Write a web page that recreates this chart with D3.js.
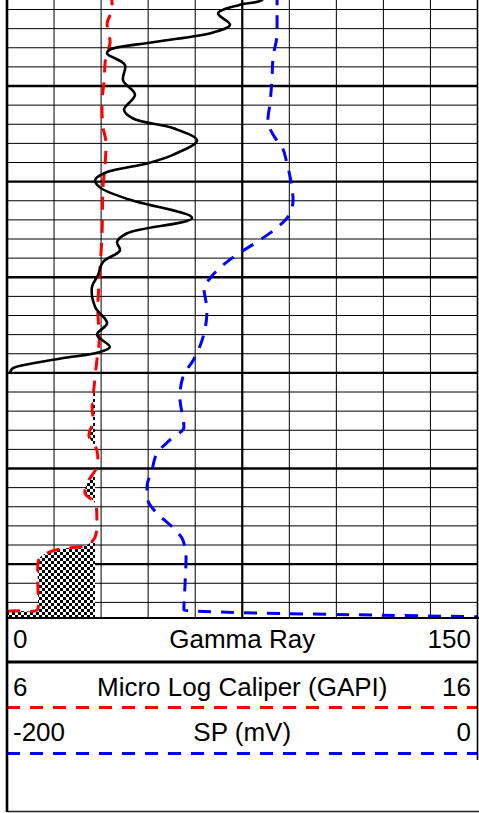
<!DOCTYPE html>
<meta charset="utf-8">

<style type="text/css">
  body {
    margin: 0;
    background: #fff;
    font-family: "Liberation Sans", Arial, sans-serif;
  }

  svg {
    display: block;
  }

  .legend text {
    font-size: 26px;
    fill: #000;
  }
</style>

<body>
</body>

<script src="https://d3js.org/d3.v7.min.js"></script>
<script>
  // depth (ft) and curve readings
  var grDepth = [1000.2, 1001.0, 1001.5, 1002.4, 1003.6, 1004.4, 1005.4, 1006.2, 1006.6, 1007.8,
    1009.4, 1010.9, 1012.5, 1013.4, 1014.4, 1015.7, 1017.2, 1018.1, 1019.0, 1019.8,
    1020.6, 1021.9, 1023.8, 1025.4, 1026.3, 1027.2, 1028.4, 1029.8, 1031.0, 1033.1,
    1034.8, 1036.0, 1037.3, 1037.9, 1038.4, 1039.0, 1039.5, 1039.9];
  var grValue = [82.3, 81.3, 74.3, 67.3, 71.1, 65.7, 47.0, 32.8, 31.9, 37.6,
    37.0, 40.8, 37.3, 40.2, 52.9, 60.6, 52.9, 44.6, 31.9, 28.1,
    29.6, 39.2, 59.0, 38.3, 35.1, 36.0, 30.6, 29.0, 27.1, 28.1,
    31.9, 28.7, 32.8, 28.7, 19.1, 8.3, 1.9, 1.0];

  var calDepth = [1000.2, 1002.1, 1003.4, 1005.5, 1007.0, 1009.7, 1011.5, 1014.3, 1015.7, 1018.5,
    1020.6, 1025.4, 1028.9, 1030.3, 1033.4, 1036.6, 1038.7, 1041.5, 1043.6, 1045.2,
    1046.5, 1048.1, 1049.8, 1051.4, 1052.6, 1053.6, 1055.1, 1057.2, 1058.0, 1058.3,
    1058.6, 1059.3, 1059.9, 1063.8, 1064.8, 1065.0, 1065.9];
  var calValue = [8.21, 8.23, 8.13, 8.19, 8.10, 8.06, 8.02, 8.04, 8.10, 8.08,
    8.04, 8.02, 7.98, 7.96, 7.93, 7.96, 7.91, 7.85, 7.81, 7.83,
    7.74, 7.91, 7.91, 7.72, 7.66, 7.87, 7.91, 7.87, 7.70, 7.34,
    6.98, 6.70, 6.66, 6.66, 6.64, 6.00, 6.00];

  var spDepth = [1000.2, 1001.8, 1004.5, 1007.0, 1009.4, 1011.8, 1013.6, 1015.4, 1016.4, 1018.1,
    1020.6, 1021.9, 1023.5, 1024.8, 1026.3, 1028.0, 1030.1, 1031.1, 1033.4, 1036.6,
    1038.7, 1040.4, 1042.5, 1045.7, 1047.0, 1048.4, 1050.2, 1051.9, 1053.3, 1054.7,
    1056.2, 1057.5, 1059.3, 1062.0, 1064.8, 1065.5];
  var spValue = [-85.2, -85.2, -85.2, -86.9, -87.4, -88.2, -89.1, -86.1, -83.1, -81.0,
    -78.9, -78.4, -80.1, -85.2, -93.7, -104.4, -113.7, -116.3, -115.0, -117.1,
    -120.9, -125.2, -126.5, -124.8, -130.7, -136.2, -138.4, -140.5, -140.1, -136.2,
    -129.4, -125.2, -123.9, -124.3, -124.8, 0];

  var bitSize = 7.875;

  var trackNames = ["Gamma Ray", "Micro Log Caliper (GAPI)", "SP (mV)"];
  var trackMin = [0, 6, -200];
  var trackMax = [150, 16, 0];
  var trackColors = ["#000", "#ff0000", "#0000ff"];

  var width = 479,
    height = 813,
    left = 7,
    right = 477.5,
    plotBottom = 618;

  var xGR = d3.scaleLinear().domain([trackMin[0], trackMax[0]]).range([left, right]),
    xCal = d3.scaleLinear().domain([trackMin[1], trackMax[1]]).range([left, right]),
    xSP = d3.scaleLinear().domain([trackMin[2], trackMax[2]]).range([left, right]),
    y = d3.scaleLinear().domain([1000, 1066]).range([-9.62, 621.5]);

  var gr = grDepth.map(function(d, i) { return { depth: d, v: grValue[i] }; });
  var cal = calDepth.map(function(d, i) { return { depth: d, v: calValue[i] }; });
  var sp = spDepth.map(function(d, i) { return { depth: d, v: spValue[i] }; });

  var svg = d3.select("body")
    .append("svg")
    .attr("width", width)
    .attr("height", height);

  var defs = svg.append("defs");

  var pat = defs.append("pattern")
    .attr("id", "checker")
    .attr("patternUnits", "userSpaceOnUse")
    .attr("width", 6)
    .attr("height", 6);
  pat.append("rect").attr("width", 6).attr("height", 6).attr("fill", "#fff");
  pat.append("rect").attr("width", 3).attr("height", 3).attr("fill", "#000");
  pat.append("rect").attr("x", 3).attr("y", 3).attr("width", 3).attr("height", 3).attr("fill", "#000");

  defs.append("clipPath")
    .attr("id", "plotclip")
    .append("rect")
    .attr("x", left)
    .attr("y", 0)
    .attr("width", right - left)
    .attr("height", plotBottom);

  defs.append("clipPath")
    .attr("id", "bitclip")
    .append("rect")
    .attr("x", left)
    .attr("y", 0)
    .attr("width", Math.floor(xCal(bitSize)) - left)
    .attr("height", plotBottom);

  var plot = svg.append("g").attr("clip-path", "url(#plotclip)");

  // grid
  var hTicks = d3.range(1000, 1067, 2);
  plot.selectAll(".hgrid")
    .data(hTicks)
    .enter().append("line")
    .attr("class", "hgrid")
    .attr("x1", left)
    .attr("x2", right)
    .attr("y1", function(d) { return y(d); })
    .attr("y2", function(d) { return y(d); })
    .attr("stroke", "#000")
    .attr("stroke-width", function(d) { return d % 10 === 0 ? 2.4 : 1; });

  var vTicks = d3.range(0, 151, 15);
  plot.selectAll(".vgrid")
    .data(vTicks)
    .enter().append("line")
    .attr("class", "vgrid")
    .attr("x1", function(d) { return xGR(d); })
    .attr("x2", function(d) { return xGR(d); })
    .attr("y1", 0)
    .attr("y2", plotBottom)
    .attr("stroke", "#000")
    .attr("stroke-width", function(d) { return d === 75 ? 2.2 : 1; });

  var curve = d3.curveCatmullRom.alpha(0.5);

  // mudcake fill between caliper and bit size
  var area = d3.area()
    .y(function(d) { return y(d.depth); })
    .x0(function(d) { return xCal(d.v); })
    .x1(xCal(bitSize))
    .curve(curve);

  plot.append("g")
    .attr("clip-path", "url(#bitclip)")
    .append("path")
    .datum(cal)
    .attr("d", area)
    .attr("fill", "url(#checker)");

  function line(xs, c) {
    return d3.line()
      .x(function(d) { return xs(d.v); })
      .y(function(d) { return y(d.depth); })
      .curve(c || curve);
  }

  plot.append("path")
    .datum(sp)
    .attr("d", line(xSP, d3.curveMonotoneY))
    .attr("fill", "none")
    .attr("stroke", trackColors[2])
    .attr("stroke-width", 3)
    .attr("stroke-dasharray", "13,10");

  plot.append("path")
    .datum(cal)
    .attr("d", line(xCal))
    .attr("fill", "none")
    .attr("stroke", trackColors[1])
    .attr("stroke-width", 3)
    .attr("stroke-dasharray", "13,10");

  plot.append("path")
    .datum(gr)
    .attr("d", line(xGR))
    .attr("fill", "none")
    .attr("stroke", trackColors[0])
    .attr("stroke-width", 2.6)
    .attr("stroke-linejoin", "round");

  // legend
  var legend = svg.append("g").attr("class", "legend");

  legend.append("rect")
    .attr("x", left)
    .attr("y", plotBottom)
    .attr("width", width - left)
    .attr("height", height - plotBottom)
    .attr("fill", "#fff");

  var baselines = [648, 696, 741];
  var keyLines = [null, 707.5, 753.5];
  var mid = (left + right) / 2;

  trackNames.forEach(function(name, i) {
    legend.append("text")
      .attr("x", 13)
      .attr("y", baselines[i])
      .text(trackMin[i]);
    legend.append("text")
      .attr("x", mid)
      .attr("y", baselines[i])
      .attr("text-anchor", "middle")
      .text(name);
    legend.append("text")
      .attr("x", 471)
      .attr("y", baselines[i])
      .attr("text-anchor", "end")
      .text(trackMax[i]);
    if (keyLines[i] !== null) {
      legend.append("line")
        .attr("x1", left)
        .attr("x2", right)
        .attr("y1", keyLines[i])
        .attr("y2", keyLines[i])
        .attr("stroke", trackColors[i])
        .attr("stroke-width", 3)
        .attr("stroke-dasharray", "13,10");
    }
  });

  // frame
  svg.append("line")
    .attr("x1", left).attr("x2", width)
    .attr("y1", plotBottom).attr("y2", plotBottom)
    .attr("stroke", "#000").attr("stroke-width", 2);
  svg.append("line")
    .attr("x1", left).attr("x2", right)
    .attr("y1", 662).attr("y2", 662)
    .attr("stroke", "#000").attr("stroke-width", 3);
  svg.append("line")
    .attr("x1", left).attr("x2", width)
    .attr("y1", 811.5).attr("y2", 811.5)
    .attr("stroke", "#222").attr("stroke-width", 1.6);
  svg.append("line")
    .attr("x1", left).attr("x2", left)
    .attr("y1", 0).attr("y2", 812)
    .attr("stroke", "#000").attr("stroke-width", 2.6);
  svg.append("line")
    .attr("x1", right).attr("x2", right)
    .attr("y1", 0).attr("y2", 760)
    .attr("stroke", "#000").attr("stroke-width", 1.6);
</script>
